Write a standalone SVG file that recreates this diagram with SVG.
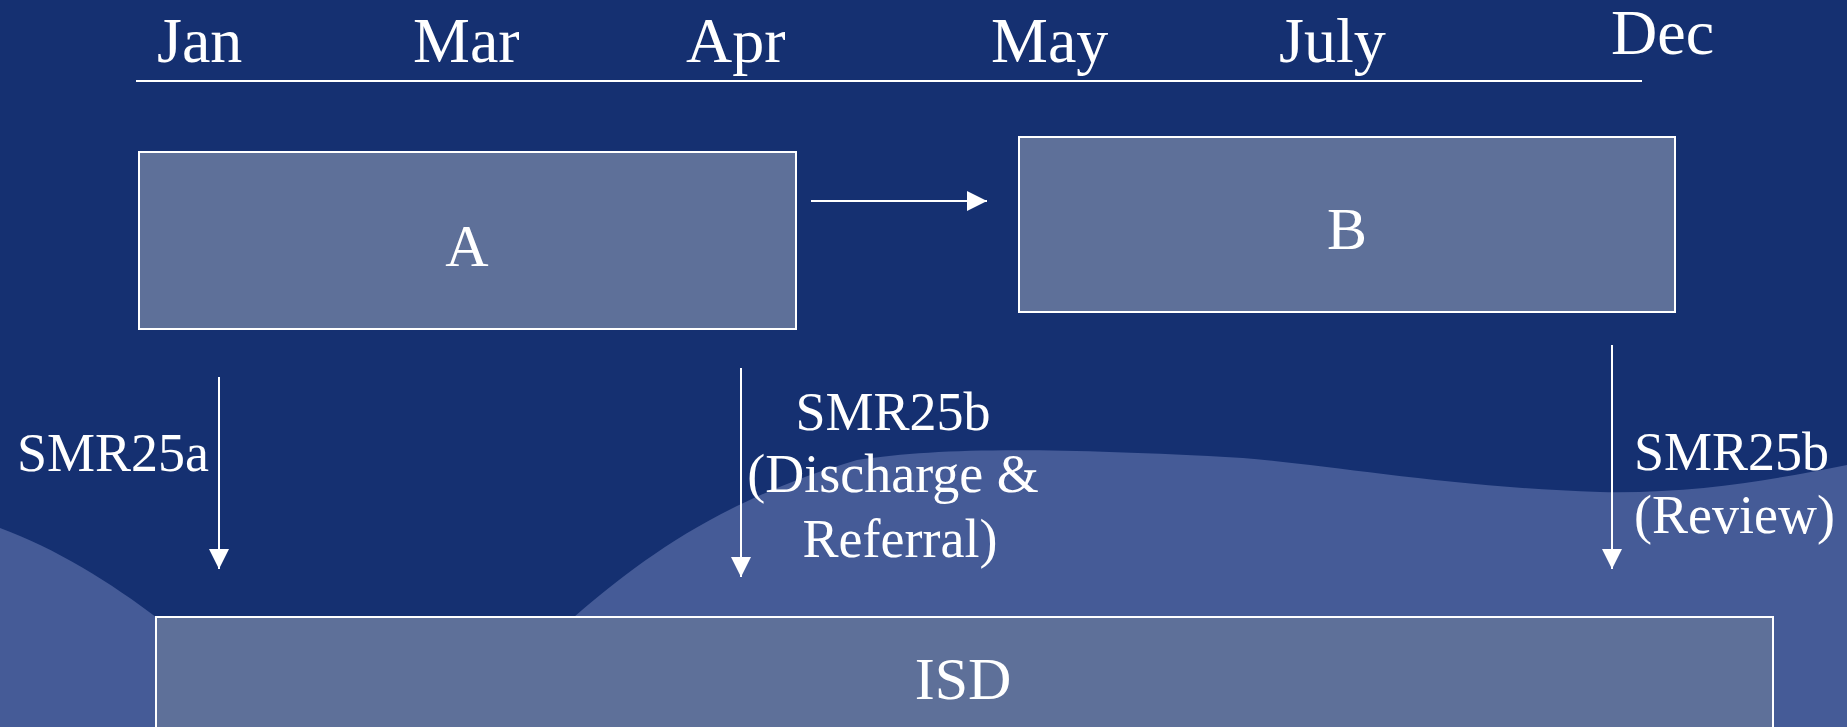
<svg xmlns="http://www.w3.org/2000/svg" width="1847" height="727" viewBox="0 0 1847 727">
  <defs>
    <style>
      .t { font-family: "Liberation Serif", "Times New Roman", serif; fill: #ffffff; }
      .month { font-size: 64px; }
      .lbl { font-size: 54px; }
      .boxlbl { font-size: 60px; text-anchor: middle; }
      .box { fill: #5e7099; stroke: #ffffff; stroke-width: 2; }
      .conn { stroke: #ffffff; stroke-width: 2; fill: none; }
    </style>
    <marker id="ah" viewBox="0 0 20 20" refX="20" refY="10" markerWidth="20" markerHeight="20" markerUnits="userSpaceOnUse" orient="auto">
      <path d="M0 0 L20 10 L0 20 Z" fill="#ffffff"/>
    </marker>
  </defs>

  <rect x="0" y="0" width="1847" height="727" fill="#153071"/>
  <path d="M0 528 C 55 548, 110 582, 160 620 L 574 617 C 640 560, 720 500, 857 460 C 940 448, 1040 447, 1243 458 C 1330 465, 1450 487, 1600 492 C 1700 494, 1780 478, 1847 465 L 1847 727 L 0 727 Z" fill="#455b97"/>

  <g id="timeline">
    <line x1="136" y1="81" x2="1642" y2="81" stroke="#ffffff" stroke-width="2"/>
    <text class="t month" x="157" y="62">Jan</text>
    <text class="t month" x="413" y="62">Mar</text>
    <text class="t month" x="686" y="62">Apr</text>
    <text class="t month" x="991" y="62">May</text>
    <text class="t month" x="1279" y="62">July</text>
    <text class="t month" x="1611" y="54">Dec</text>
  </g>

  <g id="nodeA">
    <rect class="box" x="139" y="152" width="657" height="177"/>
    <text class="t boxlbl" x="467" y="266">A</text>
  </g>
  <g id="nodeB">
    <rect class="box" x="1019" y="137" width="656" height="175"/>
    <text class="t boxlbl" x="1347" y="249">B</text>
  </g>
  <g id="nodeISD">
    <rect class="box" x="156" y="617" width="1617" height="120"/>
    <text class="t boxlbl" x="963" y="699">ISD</text>
  </g>

  <g id="connectors">
    <line class="conn" x1="811" y1="201" x2="987" y2="201" marker-end="url(#ah)"/>
    <line class="conn" x1="219" y1="377" x2="219" y2="569" marker-end="url(#ah)"/>
    <line class="conn" x1="741" y1="368" x2="741" y2="577" marker-end="url(#ah)"/>
    <line class="conn" x1="1612" y1="345" x2="1612" y2="569" marker-end="url(#ah)"/>
  </g>

  <g id="labels">
    <text class="t lbl" x="17" y="471">SMR25a</text>
    <text class="t lbl" x="893" y="430" text-anchor="middle">SMR25b</text>
    <text class="t lbl" x="893" y="492" text-anchor="middle">(Discharge &amp;</text>
    <text class="t lbl" x="900" y="557" text-anchor="middle">Referral)</text>
    <text class="t lbl" x="1634" y="470">SMR25b</text>
    <text class="t lbl" x="1634" y="533">(Review)</text>
  </g>
</svg>
